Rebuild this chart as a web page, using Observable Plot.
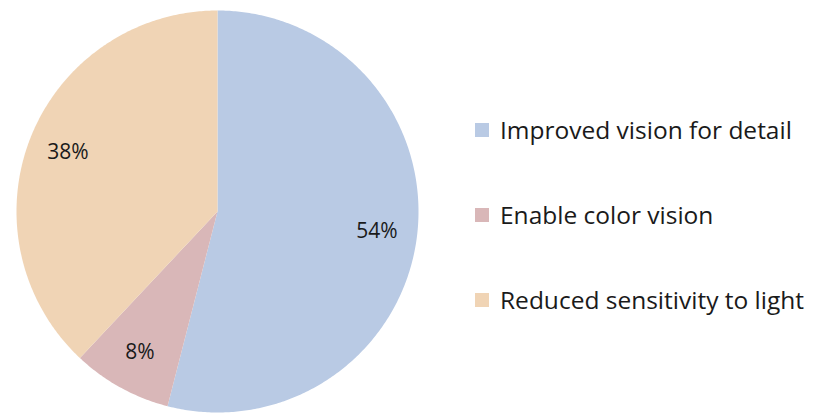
<!DOCTYPE html>
<html>
<head>
<meta charset="utf-8">
<script src="https://cdn.jsdelivr.net/npm/d3@7"></script>
<script src="https://cdn.jsdelivr.net/npm/@observablehq/plot@0.6"></script>
<style>
  html, body { margin: 0; padding: 0; background: #fff; }
  #wrap { position: relative; width: 814px; height: 414px; font-family: "Open Sans", Lato, sans-serif; }
  #legend { position: absolute; left: 475px; top: 0; }
  .item { position: absolute; left: 0; white-space: nowrap; display: flex; align-items: center; font-size: 24.5px; color: #1a1a1a; }
  .sw { width: 14px; height: 14px; margin-right: 11px; flex: none; }
</style>
</head>
<body>
<div id="wrap"></div>
<script>
// Data
const categories = ["Improved vision for detail", "Enable color vision", "Reduced sensitivity to light"];
const values = [54, 8, 38];
const labels = ["54%", "8%", "38%"];
const colors = ["#b9cae4", "#d9b7b8", "#f0d4b5"];

// Build slices with d3.pie (clockwise from 12 o'clock, in given order)
const pie = d3.pie().sort(null).value(d => d.value);
const rows = categories.map((c, i) => ({category: c, value: values[i], label: labels[i]}));
const arcs = pie(rows);

const polys = [];
arcs.forEach(a => {
  const c = a.data.category;
  polys.push({category: c, x: 0, y: 0});
  const n = Math.max(4, Math.ceil((a.endAngle - a.startAngle) / 0.01));
  for (let k = 0; k <= n; k++) {
    const t = a.startAngle + (a.endAngle - a.startAngle) * k / n;
    polys.push({category: c, x: Math.sin(t), y: Math.cos(t)});
  }
  polys.push({category: c, x: 0, y: 0});
});

const labelPts = arcs.map(a => {
  const m = (a.startAngle + a.endAngle) / 2;
  return {label: a.data.label, x: 0.8 * Math.sin(m), y: 0.8 * Math.cos(m)};
});

const chart = Plot.plot({
  width: 814,
  height: 414,
  margin: 0,
  x: {domain: [-1, 1], range: [16, 418], axis: null},
  y: {domain: [-1, 1], range: [412, 10], axis: null},
  color: {domain: categories, range: colors},
  style: {background: "#fff"},
  marks: [
    Plot.line(polys, {x: "x", y: "y", z: "category", fill: "category", stroke: "none", curve: "linear"}),
    Plot.text(labelPts, {x: "x", y: "y", text: "label", fontSize: 21, fill: "#1a1a1a", fontFamily: "'Open Sans', Lato, sans-serif"})
  ]
});

const wrap = document.getElementById("wrap");
wrap.appendChild(chart);

const legend = document.createElement("div");
legend.id = "legend";
const tops = [113, 198, 283];
categories.forEach((c, i) => {
  const it = document.createElement("div");
  it.className = "item";
  it.style.top = tops[i] + "px";
  const sw = document.createElement("span");
  sw.className = "sw";
  sw.style.background = colors[i];
  const tx = document.createElement("span");
  tx.textContent = c;
  it.appendChild(sw);
  it.appendChild(tx);
  legend.appendChild(it);
});
wrap.appendChild(legend);
</script>
</body>
</html>
